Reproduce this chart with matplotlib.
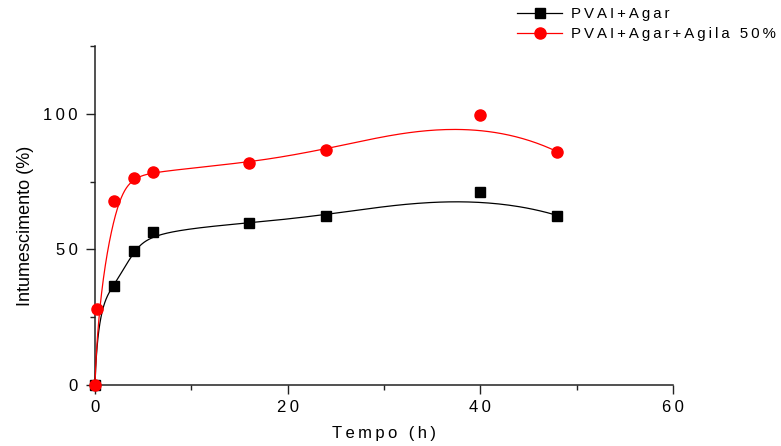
import numpy as np
import matplotlib.pyplot as plt
from matplotlib.ticker import MultipleLocator

# --- data ---
tempo = [0, 0.25, 2, 4, 6, 16, 24, 40, 48]
pvai_agar = [0, 28, 36.5, 49.5, 56.5, 59.8, 62.5, 71, 62.5]
pvai_agar_agila = [0, 28, 68, 76.5, 78.6, 82, 86.7, 99.6, 86]

plt.rcParams['font.family'] = ['Liberation Sans', 'DejaVu Sans']


def spaced(s, sep='\u2009'):
    # the original has letter-spaced text
    return sep.join(s)


def bspline(xs, ys, k=3, n=400):
    # clamped uniform B-spline using the data points as control points
    P = np.column_stack([xs, ys])
    m = len(P)
    inner = np.arange(1, m - k)
    knots = np.concatenate([np.zeros(k + 1), inner, np.full(k + 1, m - k)])
    t = np.linspace(0, m - k, n)
    t[-1] -= 1e-9
    N = np.zeros((n, len(knots) - 1))
    for i in range(len(knots) - 1):
        N[:, i] = (t >= knots[i]) & (t < knots[i + 1])
    for d in range(1, k + 1):
        Nn = np.zeros((n, len(knots) - 1 - d))
        for i in range(len(knots) - 1 - d):
            a = knots[i + d] - knots[i]
            b = knots[i + d + 1] - knots[i + 1]
            left = (t - knots[i]) / a * N[:, i] if a > 0 else 0
            right = (knots[i + d + 1] - t) / b * N[:, i + 1] if b > 0 else 0
            Nn[:, i] = left + right
        N = Nn
    C = N @ P
    return C[:, 0], C[:, 1]


fig = plt.figure(figsize=(7.81, 4.46), dpi=100)
ax = fig.add_axes([95 / 781, 1 - 385 / 446, 578 / 781, 339 / 446])

bx, by = bspline(tempo, pvai_agar)
rx, ry = bspline(tempo, pvai_agar_agila)

ax.plot(bx, by, color='black', lw=0.9, zorder=3, clip_on=False)
ax.plot(rx, ry, color='red', lw=0.9, zorder=4, clip_on=False)
# the 0.25 h black point sits under the red circle in the original
ax.plot(tempo, pvai_agar, 's', color='black', ms=7.5, zorder=5, clip_on=False,
        markevery=[0, 2, 3, 4, 5, 6, 7, 8])
ax.plot(tempo, pvai_agar_agila, 'o', color='red', ms=8, zorder=6, clip_on=False)

# legend handles
h1, = ax.plot([], [], '-s', color='black', lw=0.9, ms=7.5)
h2, = ax.plot([], [], '-o', color='red', lw=0.9, ms=8)
fig.legend([h1, h2], [spaced('PVAI+Agar'), spaced('PVAI+Agar+Agila 50%')],
           loc='upper left', bbox_to_anchor=(517 / 781, 1 - 7 / 446),
           frameon=False, fontsize=10.8, handlelength=3.0, handletextpad=0.6,
           labelspacing=0.4, borderaxespad=0, borderpad=0)

ax.set_xlim(0, 60)
ax.set_ylim(0, 125)
ax.xaxis.set_minor_locator(MultipleLocator(10))
ax.yaxis.set_minor_locator(MultipleLocator(25))
ax.set_xticks([0, 20, 40, 60])
ax.set_xticklabels([spaced(str(v)) for v in [0, 20, 40, 60]], fontsize=12)
ax.set_yticks([0, 50, 100])
ax.set_yticklabels([spaced(str(v)) for v in [0, 50, 100]], fontsize=12)

for s in ['top', 'right']:
    ax.spines[s].set_visible(False)
for s in ['left', 'bottom']:
    ax.spines[s].set_linewidth(1.1)
    ax.spines[s].set_color('#222222')

ax.tick_params(which='major', direction='out', length=6.5, width=1.0,
               color='#222222')
ax.tick_params(axis='y', which='major', pad=6)
ax.tick_params(axis='x', which='major', pad=4)
ax.tick_params(which='minor', direction='out', length=3.5, width=1.0,
               color='#222222')

ax.set_xlabel(spaced('Tempo (h)'), fontsize=12)
ax.set_ylabel('Intumescimento (%)', fontsize=13)
ax.yaxis.set_label_coords(-0.105, 0.47)
ax.xaxis.set_label_coords(0.5, -0.122)

fig.savefig('out.png', dpi=100)
